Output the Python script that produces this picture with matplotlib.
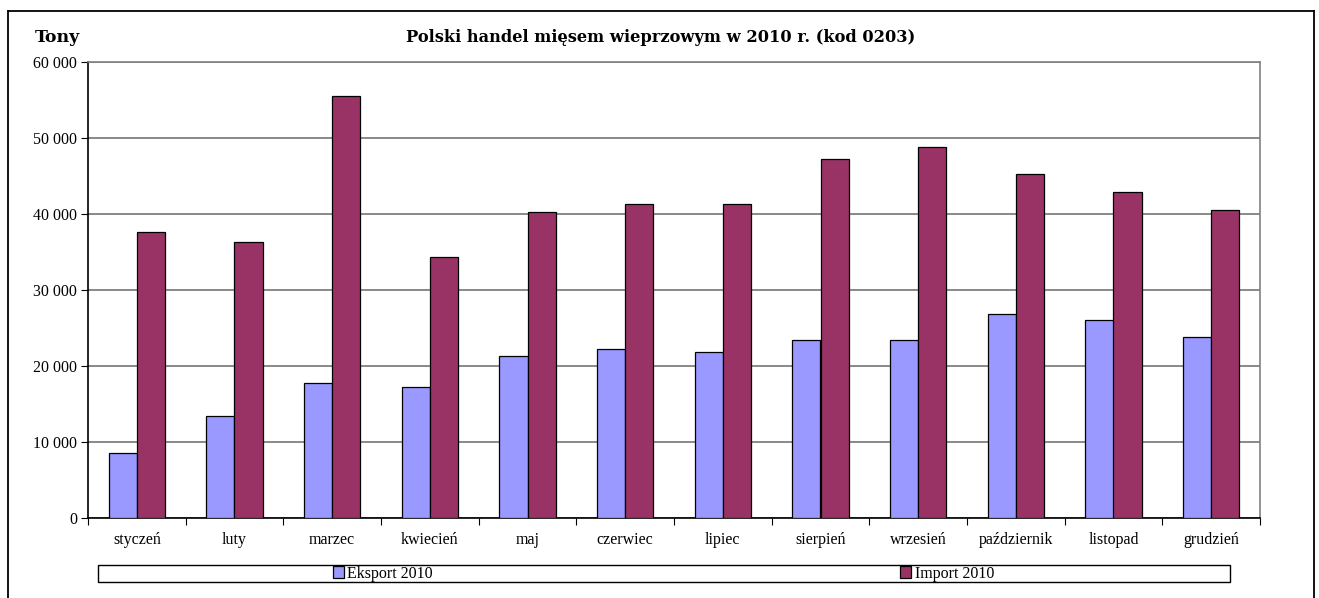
import matplotlib.pyplot as plt
import numpy as np
from matplotlib.patches import Rectangle
from matplotlib.lines import Line2D
from matplotlib.ticker import FuncFormatter

months = ["styczeń", "luty", "marzec", "kwiecień", "maj", "czerwiec",
          "lipiec", "sierpień", "wrzesień", "październik", "listopad", "grudzień"]
eksport = [8500, 13400, 17700, 17300, 21300, 22300, 21800, 23400, 23400, 26800, 26100, 23800]
import_ = [37600, 36300, 55500, 34300, 40300, 41300, 41300, 47300, 48800, 45200, 42900, 40500]
series_names = ["Eksport 2010", "Import 2010"]
y_ticks = [0, 10000, 20000, 30000, 40000, 50000, 60000]

plt.rcParams["font.family"] = ["Liberation Serif", "DejaVu Serif"]

W, H = 1319, 598
fig = plt.figure(figsize=(W / 100, H / 100), dpi=100)


def fx(px):
    return px / W


def fy(py):
    return 1 - py / H


# outer chart border (bottom edge runs off the image)
fig.add_artist(Line2D([fx(7.5), fx(7.5)], [fy(10.5), -0.05], color="black", lw=1.3))
fig.add_artist(Line2D([fx(7.5), fx(1313.5)], [fy(10.5), fy(10.5)], color="black", lw=1.3))
fig.add_artist(Line2D([fx(1313.5), fx(1313.5)], [fy(10.5), -0.05], color="black", lw=1.3))

ax = fig.add_axes([fx(88), fy(518), fx(1260) - fx(88), fy(62) - fy(518)])

x = np.arange(len(months))
w = 0.287
ax.bar(x - w / 2, eksport, w, color="#9999FF", edgecolor="black", linewidth=0.9,
       label=series_names[0], zorder=3)
ax.bar(x + w / 2, import_, w, color="#993366", edgecolor="black", linewidth=0.9,
       label=series_names[1], zorder=3)

ax.set_xlim(-0.5, len(months) - 0.5)
ax.set_ylim(0, 60000)
ax.set_yticks(y_ticks)
ax.yaxis.set_major_formatter(FuncFormatter(lambda v, p: f"{int(v):,}".replace(",", " ")))
ax.grid(axis="y", color="#808080", linewidth=1.3, zorder=0)

ax.set_xticks(x)
ax.set_xticklabels(months)
ax.set_xticks(np.arange(-0.5, len(months), 1), minor=True)
ax.tick_params(axis="x", which="major", length=0, pad=10, labelsize=11.5)
ax.tick_params(axis="x", which="minor", length=5, width=0.8, direction="out")
ax.tick_params(axis="y", length=5, width=0.8, direction="out", pad=3, labelsize=11.5)

for s in ["top", "right"]:
    ax.spines[s].set_color("#808080")
    ax.spines[s].set_linewidth(1.2)
ax.spines["left"].set_linewidth(1.2)
ax.spines["bottom"].set_linewidth(1.2)

fig.text(fx(661), fy(38), "Polski handel mięsem wieprzowym w 2010 r. (kod 0203)",
         ha="center", va="center", fontsize=11.7, fontweight="bold",
         family=["DejaVu Serif"])
fig.text(fx(35), fy(37), "Tony", ha="left", va="center", fontsize=12.5,
         fontweight="bold", family=["DejaVu Serif"])

# legend box
fig.add_artist(Rectangle((fx(98), fy(582)), fx(1230) - fx(98), fy(565) - fy(582),
                         transform=fig.transFigure, fill=False, edgecolor="black", lw=1.0))
handles, labels = ax.get_legend_handles_labels()
for h, lab, cx in zip(handles, labels, [383, 947]):
    fig.legend([h], [lab], loc="center", bbox_to_anchor=(fx(cx), fy(573.5)),
               frameon=False, fontsize=11.5, handlelength=0.7, handleheight=0.7,
               handletextpad=0.2, borderpad=0)

fig.savefig("out.png", dpi=100)
